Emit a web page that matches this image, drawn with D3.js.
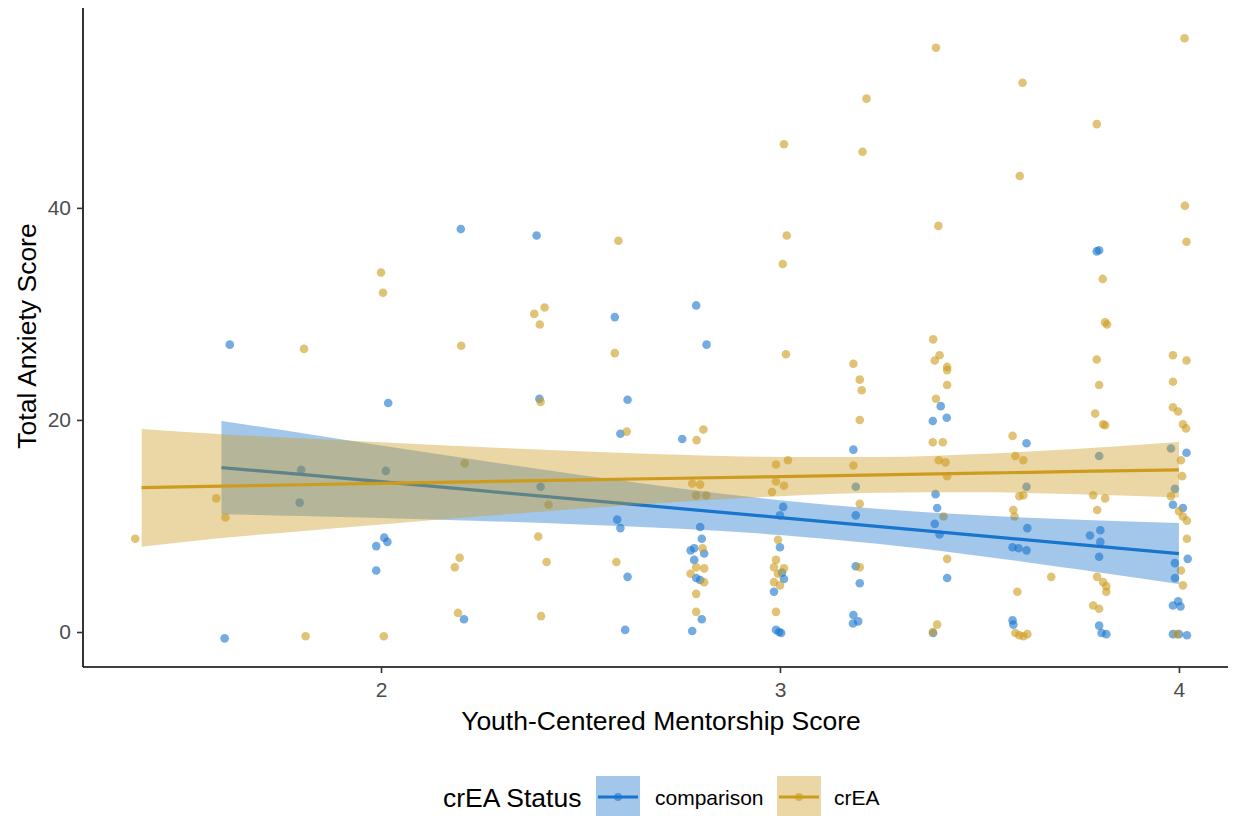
<!DOCTYPE html>
<html>
<head>
<meta charset="utf-8">
<script src="https://cdn.jsdelivr.net/npm/d3@7"></script>
<style>
  html, body { margin: 0; padding: 0; background: #fff; }
  svg { display: block; font-family: "Liberation Sans", Arial, sans-serif; }
</style>
</head>
<body>
<svg id="chart" width="1233" height="816"></svg>
<script>
// ---------------- DATA ----------------
const groups = ["comparison", "crEA"];
const groupColors = ["#1874CD", "#CD9B1D"];
const xTicks = [2, 3, 4];
const yTicks = [0, 20, 40];

const compX = [1.621,1.608,2.018,1.80,2.012,1.796,2.008,2.016,1.988,1.988,2.208,2.20,2.39,2.79,2.586,2.816,2.397,2.618,2.60,2.755,3.184,2.40,2.592,2.60,2.618,2.612,
  2.80,2.804,2.776,2.785,2.81,2.785,2.79,2.80,2.804,2.78,
  3.008,3.0,3.0,3.005,3.01,2.985,2.99,3.003,2.998,
  3.19,3.19,3.2,3.184,3.183,3.196,3.19,
  3.403,3.418,3.383,3.39,3.394,3.388,3.40,3.419,3.384,
  3.618,3.618,3.62,3.583,3.598,3.618,3.583,3.585,
  3.794,3.80,3.80,3.803,3.777,3.803,3.80,3.80,3.806,3.818,
  3.98,4.019,3.99,3.985,4.01,4.022,3.99,3.99,3.985,3.998,4.004,3.985,4.0,4.02];
const compY = [27.1,-0.6,21.6,15.3,15.2,12.2,8.9,8.5,8.1,5.8,1.2,38.0,37.4,30.8,29.7,27.1,22.0,21.9,18.7,18.2,17.2,13.7,10.6,9.8,5.2,0.2,
  9.9,8.8,7.7,7.9,7.4,6.8,5.1,4.9,1.2,0.1,
  11.8,11.0,8.0,5.6,5.0,3.8,0.2,-0.1,0.0,
  11.0,6.2,4.6,1.6,0.8,1.0,13.7,
  21.3,20.2,19.9,13.0,11.7,10.2,9.2,5.1,-0.1,
  17.8,13.7,9.8,8.0,7.9,7.7,1.1,0.7,
  35.9,36.0,16.6,9.6,9.1,8.5,7.1,0.6,-0.1,-0.2,
  17.3,16.9,13.5,12.0,11.7,6.9,6.5,5.1,2.5,2.9,2.4,-0.2,-0.2,-0.3];

const creaX = [1.384,1.587,1.61,1.807,1.811,2.0,2.005,2.007,2.201,2.21,2.197,2.185,2.193,
  2.41,2.384,2.398,2.40,2.42,2.394,2.415,2.401,2.595,2.586,2.616,2.59,
  2.808,2.791,2.78,2.80,2.79,2.815,2.806,2.79,2.81,2.776,2.81,2.79,2.79,
  3.01,3.017,3.007,3.015,2.99,3.02,2.99,3.01,2.98,2.995,2.99,2.985,3.01,2.995,2.985,3.0,2.99,
  3.217,3.207,3.184,3.2,3.205,3.2,3.184,3.2,3.2,
  3.391,3.397,3.384,3.40,3.388,3.419,3.419,3.419,3.391,3.383,3.408,3.398,3.415,3.419,3.41,3.419,3.394,3.383,
  3.608,3.601,3.583,3.59,3.61,3.61,3.60,3.585,3.588,3.68,3.595,3.59,3.60,3.62,3.61,
  3.794,3.809,3.815,3.82,3.794,3.80,3.79,3.81,3.815,3.785,3.815,3.795,3.795,3.81,3.818,3.818,3.785,3.80,
  4.014,4.015,4.019,3.985,4.019,3.985,3.985,3.998,4.01,4.018,4.005,4.008,3.98,4.0,4.01,4.02,4.02,4.005,4.01,3.995];
const creaY = [8.8,12.6,10.8,26.7,-0.4,33.9,32.0,-0.4,27.0,15.9,7.0,6.1,1.8,
  30.6,30.0,29.0,21.7,12.0,9.0,6.6,1.5,36.9,26.3,18.9,6.6,
  19.1,18.1,14.0,13.9,12.9,12.9,7.9,6.1,6.0,5.5,4.7,3.6,1.9,
  46.0,37.4,34.7,26.2,15.8,16.2,14.2,13.8,13.2,8.7,6.8,6.1,6.0,5.5,4.7,4.4,1.9,
  50.3,45.3,25.3,23.8,22.8,20.0,15.7,12.1,6.1,
  55.1,38.3,27.6,26.1,25.6,25.0,24.7,23.3,22.0,17.9,17.9,16.2,16.0,14.7,10.9,6.9,0.7,0.0,
  51.8,43.0,18.5,16.6,16.2,12.9,12.8,11.5,10.9,5.2,3.8,-0.1,-0.3,-0.2,-0.4,
  47.9,33.3,29.2,29.0,25.7,23.3,20.6,19.6,19.5,12.9,12.6,11.5,5.2,4.7,4.3,3.8,2.5,2.2,
  56.0,40.2,36.8,26.1,25.6,23.6,21.2,20.8,19.6,19.2,16.2,14.7,12.8,11.4,10.9,10.5,8.8,5.8,4.4,-0.2];

// Fitted lines with confidence bands
const compFitX  = [1.60, 1.8, 2.0, 2.25, 2.5, 2.75, 3.0, 3.25, 3.5, 3.75, 4.0];
const compFit   = [15.5, 14.86, 14.18, 13.33, 12.48, 11.64, 10.79, 9.94, 9.09, 8.24, 7.4];
const compLo    = [11.1, 10.95, 10.75, 10.48, 10.15, 9.74, 9.15, 8.29, 7.18, 5.89, 4.53];
const compHi    = [19.9, 18.77, 17.6, 16.18, 14.8, 13.54, 12.43, 11.59, 11.0, 10.59, 10.27];

const creaFitX  = [1.40, 1.6, 1.8, 2.0, 2.25, 2.5, 2.75, 3.0, 3.25, 3.5, 3.75, 4.0];
const creaFit   = [13.62, 13.76, 13.89, 14.02, 14.18, 14.34, 14.5, 14.66, 14.82, 14.98, 15.14, 15.3];
const creaLo    = [8.05, 8.87, 9.51, 10.14, 10.91, 11.63, 12.28, 12.81, 13.13, 13.17, 12.99, 12.68];
const creaHi    = [19.15, 18.65, 18.27, 17.9, 17.45, 17.05, 16.72, 16.51, 16.51, 16.79, 17.29, 17.92];

// ---------------- CHART ----------------
(function () {
const svg = d3.select("#chart");
const pLeft = 83, pRight = 1228, pTop = 8, pBottom = 667;

const x = d3.scaleLinear().domain([1.253, 4.123]).range([pLeft, pRight]);
const y = d3.scaleLinear().domain([-3.3, 58.85]).range([pBottom, pTop]);

const pointsData = [
  { g: 0, xs: compX, ys: compY },
  { g: 1, xs: creaX, ys: creaY }
];
const fits = [
  { g: 0, xs: compFitX, f: compFit, lo: compLo, hi: compHi },
  { g: 1, xs: creaFitX, f: creaFit, lo: creaLo, hi: creaHi }
];

// points
const ptLayer = svg.append("g");
pointsData.forEach(pd => {
  const rows = pd.xs.map((v, i) => ({ x: v, y: pd.ys[i] }));
  ptLayer.selectAll(null).data(rows).enter().append("circle")
    .attr("cx", d => x(d.x)).attr("cy", d => y(d.y)).attr("r", 4.3)
    .attr("fill", groupColors[pd.g]).attr("fill-opacity", 0.6);
});

// smooths: ribbon then line per group
const area = d3.area().x(d => x(d.x)).y0(d => y(d.lo)).y1(d => y(d.hi)).curve(d3.curveMonotoneX);
const line = d3.line().x(d => x(d.x)).y(d => y(d.f));
const smLayer = svg.append("g");
fits.forEach(fd => {
  const rows = fd.xs.map((v, i) => ({ x: v, f: fd.f[i], lo: fd.lo[i], hi: fd.hi[i] }));
  smLayer.append("path").datum(rows).attr("d", area)
    .attr("fill", groupColors[fd.g]).attr("fill-opacity", 0.4);
  smLayer.append("path").datum(rows).attr("d", line)
    .attr("fill", "none").attr("stroke", groupColors[fd.g]).attr("stroke-width", 3.2);
});

// axes
const xAxis = svg.append("g").attr("transform", `translate(0,${pBottom})`)
  .call(d3.axisBottom(x).tickValues(xTicks).tickSize(6).tickPadding(9).tickFormat(d3.format("d")));
const yAxis = svg.append("g").attr("transform", `translate(${pLeft},0)`)
  .call(d3.axisLeft(y).tickValues(yTicks).tickSize(6).tickPadding(6).tickFormat(d3.format("d")));
[xAxis, yAxis].forEach(a => {
  a.select(".domain").attr("stroke", "#000").attr("stroke-width", 1.6);
  a.selectAll(".tick line").attr("stroke", "#333").attr("stroke-width", 1.6);
  a.selectAll(".tick text").attr("fill", "#4d4d4d").style("font-size", "21px")
    .style("font-family", "'Liberation Sans', Arial, sans-serif");
});
xAxis.select(".domain").attr("d", `M${pLeft},0H${pRight}`);
yAxis.select(".domain").attr("d", `M0,${pTop}V${pBottom}`);

// axis titles
svg.append("text").attr("x", 661).attr("y", 730).attr("text-anchor", "middle")
  .style("font-size", "26.5px").attr("fill", "#000").text("Youth-Centered Mentorship Score");
svg.append("text").attr("transform", "translate(36,336) rotate(-90)").attr("text-anchor", "middle")
  .style("font-size", "26.5px").attr("fill", "#000").text("Total Anxiety Score");

// legend
const lg = svg.append("g");
lg.append("text").attr("x", 443).attr("y", 807).style("font-size", "26.5px").attr("fill", "#000").text("crEA Status");
const keyX = [596, 777], labX = [655, 834];
groups.forEach((g, i) => {
  lg.append("rect").attr("x", keyX[i]).attr("y", 776).attr("width", 44).attr("height", 42)
    .attr("fill", groupColors[i]).attr("fill-opacity", 0.4);
  lg.append("line").attr("x1", keyX[i] + 2).attr("x2", keyX[i] + 42).attr("y1", 797).attr("y2", 797)
    .attr("stroke", groupColors[i]).attr("stroke-width", 3.2);
  lg.append("circle").attr("cx", keyX[i] + 22).attr("cy", 797).attr("r", 4)
    .attr("fill", groupColors[i]).attr("fill-opacity", 0.6);
  lg.append("text").attr("x", labX[i]).attr("y", 805).style("font-size", "21px").attr("fill", "#000").text(g);
});
})();
</script>
</body>
</html>
